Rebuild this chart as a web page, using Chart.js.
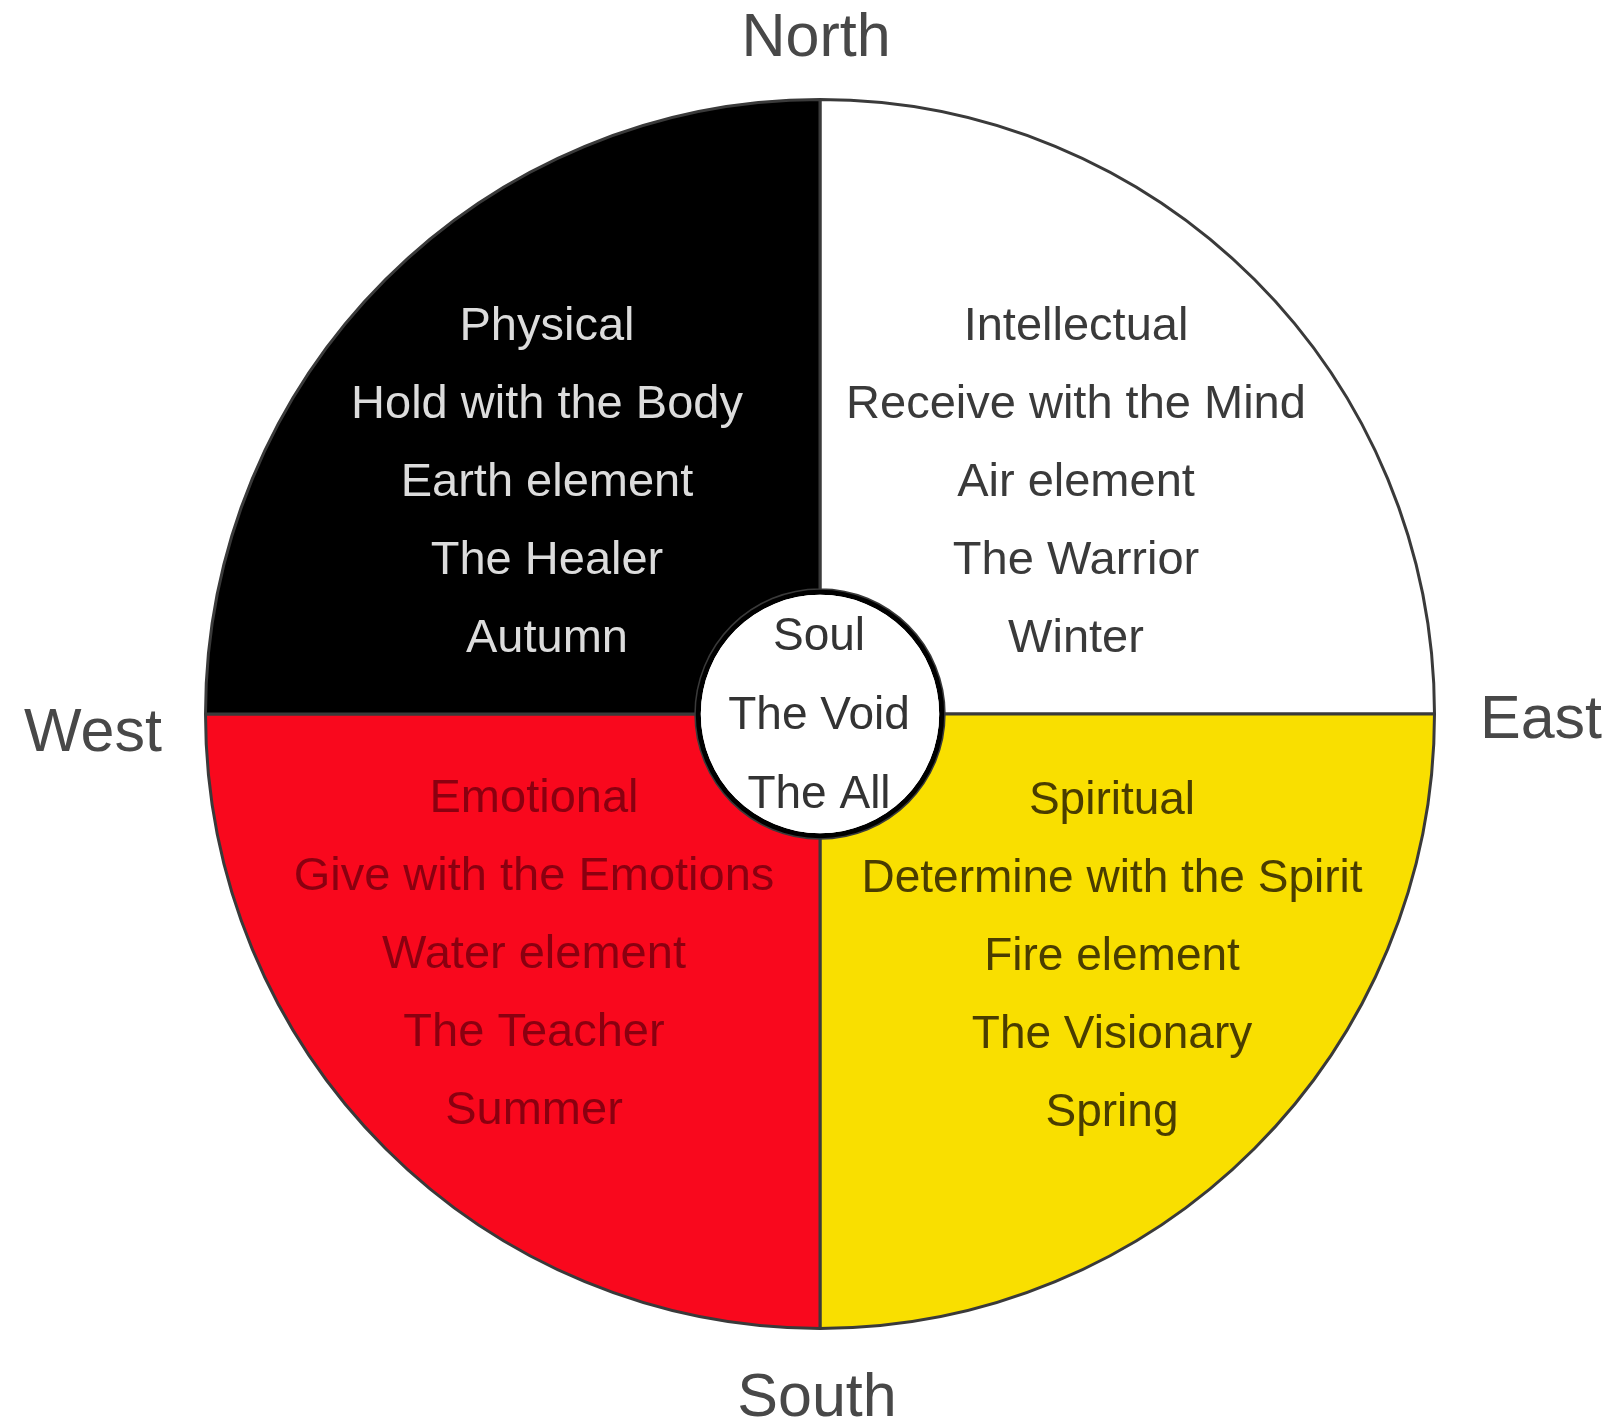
<!DOCTYPE html>
<html>
<head>
<meta charset="utf-8">
<style>
  html, body { margin: 0; padding: 0; background: #ffffff; overflow: hidden; }
  #wrap { width: 1611px; height: 1428px; position: relative; }
</style>
<script src="https://cdn.jsdelivr.net/npm/chart.js@4/dist/chart.umd.min.js"></script>
</head>
<body>
<div id="wrap"><canvas id="c" width="1611" height="1428"></canvas></div>
<script>
// ---- data ----
const quadrants = ['North', 'East', 'South', 'West'];           // clockwise from top
const quadrantValues = [1, 1, 1, 1];                             // four equal quarters
const quadrantColors = ['#ffffff', '#f9df00', '#f9081d', '#000000'];
const centerValues = [1];
const centerLabels = ['Soul / The Void / The All'];

const northLines = ['Intellectual', 'Receive with the Mind', 'Air element', 'The Warrior', 'Winter'];
const eastLines  = ['Spiritual', 'Determine with the Spirit', 'Fire element', 'The Visionary', 'Spring'];
const southLines = ['Emotional', 'Give with the Emotions', 'Water element', 'The Teacher', 'Summer'];
const westLines  = ['Physical', 'Hold with the Body', 'Earth element', 'The Healer', 'Autumn'];
const centerLines = ['Soul', 'The Void', 'The All'];
const compassLabels = ['North', 'East', 'South', 'West'];

// ---- text placement (offsets from wheel centre, px) ----
const FONT = '"Liberation Sans", Arial, Helvetica, sans-serif';
const blocks = [
  { lines: westLines,  dx: -273, dy0: -374, step: 78, color: '#dcdcdc', size: 47 },
  { lines: northLines, dx:  256, dy0: -374, step: 78, color: '#3a3a3a', size: 47 },
  { lines: southLines, dx: -286, dy0:   98, step: 78, color: '#8a0010', size: 47 },
  { lines: eastLines,  dx:  292, dy0:  100, step: 78, color: '#4a3d00', size: 46 },
  { lines: centerLines, dx:  -1, dy0:  -64, step: 79, color: '#333333', size: 46 }
];
const compassPos = [
  { dx:   -4, dy: -658 },  // North
  { dx:  721, dy:   24 },  // East
  { dx:   -3, dy:  702 },  // South
  { dx: -727, dy:   37 }   // West
];

const textPlugin = {
  id: 'wheelText',
  afterDatasetsDraw(chart) {
    const arc = chart.getDatasetMeta(0).data[0];
    const cx = arc.x, cy = arc.y;
    const ctx = chart.ctx;
    ctx.save();
    ctx.textAlign = 'center';
    ctx.textBaseline = 'alphabetic';
    blocks.forEach(b => {
      ctx.fillStyle = b.color;
      ctx.font = b.size + 'px ' + FONT;
      b.lines.forEach((t, i) => ctx.fillText(t, cx + b.dx, cy + b.dy0 + i * b.step));
    });
    ctx.fillStyle = '#484848';
    ctx.font = '61px ' + FONT;
    compassLabels.forEach((t, i) => ctx.fillText(t, cx + compassPos[i].dx, cy + compassPos[i].dy));
    ctx.restore();
  }
};

new Chart(document.getElementById('c'), {
  type: 'pie',
  data: {
    labels: quadrants,
    datasets: [
      {
        data: quadrantValues,
        backgroundColor: quadrantColors,
        borderColor: '#3a3a3a',
        borderWidth: 3,
        weight: 489.5,
        order: 2
      },
      {
        // black rim of the centre circle
        data: centerValues,
        label: 'rim',
        backgroundColor: ['#000000'],
        borderWidth: 0,
        weight: 5,
        order: 1
      },
      {
        data: centerValues,
        label: centerLabels[0],
        backgroundColor: ['#ffffff'],
        borderWidth: 0,
        weight: 119,
        order: 0
      }
    ]
  },
  options: {
    responsive: false,
    animation: false,
    rotation: 0,
    layout: { padding: { left: 204, right: 175, top: 98, bottom: 98 } },
    plugins: {
      legend: { display: false },
      tooltip: { enabled: false },
      title: { display: false }
    },
    events: []
  },
  plugins: [textPlugin]
});
</script>
</body>
</html>
